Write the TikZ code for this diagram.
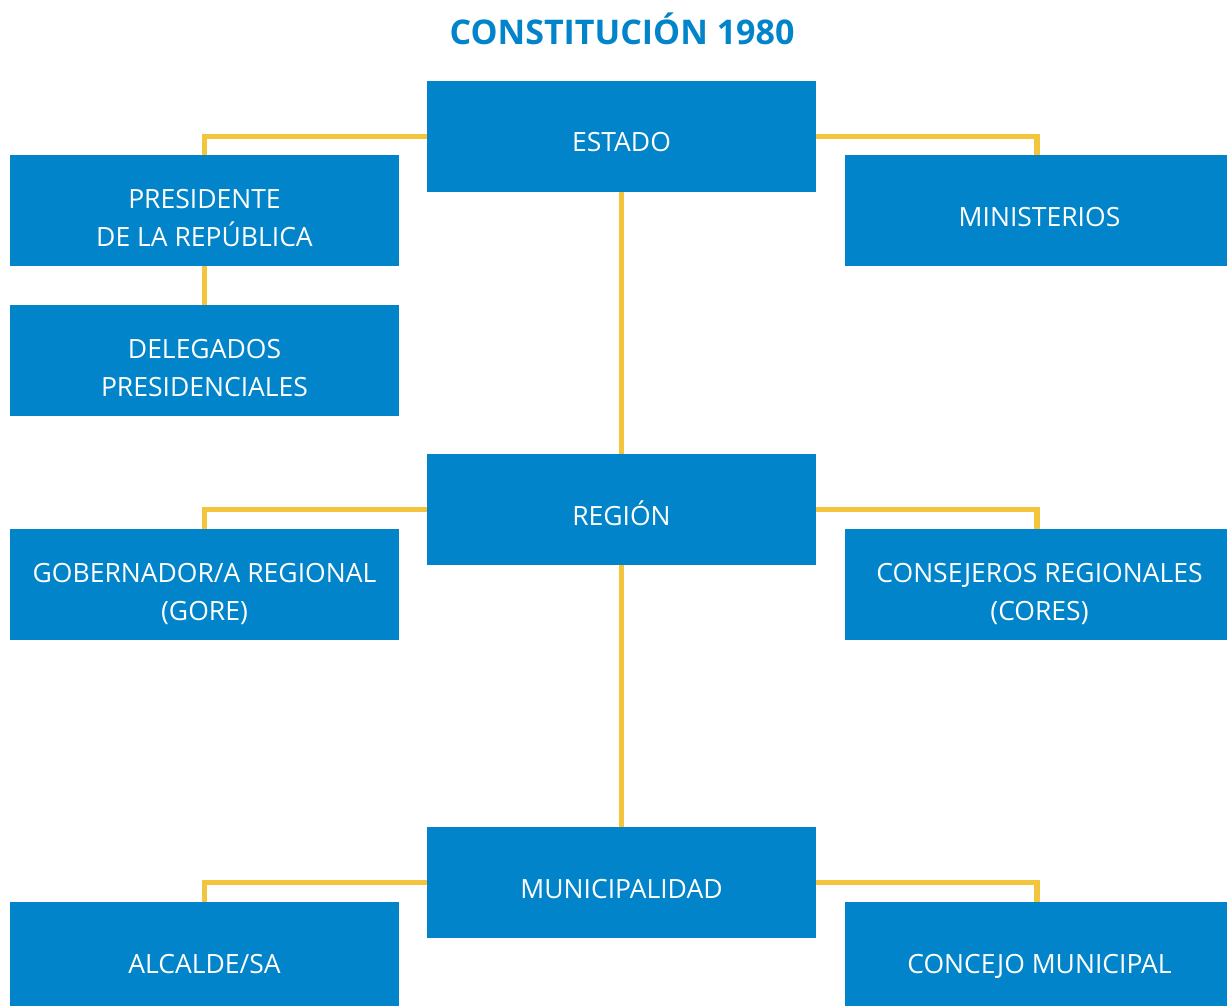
\documentclass[tikz,border=0pt]{standalone}
\usepackage{fontspec}
\setmainfont{Open Sans}
\usepackage{tikz}
\definecolor{boxblue}{HTML}{0184C9}
\definecolor{linkyellow}{HTML}{F2C53C}

\begin{document}
\begin{tikzpicture}[x=1pt, y=-1pt,
   style={font=\fontsize{26.5}{38}\selectfont},
   box/.style={
      fill = boxblue,
      text = white,
      minimum width = 389pt,
      minimum height = 111pt,
      inner sep = 0pt,
      align = center,
      text height = 33pt,
      text depth = 2pt
   },
   twoline/.style={text height = 73pt},
   link/.style={
      draw = linkyellow,
      line width = 5.5pt
   }]
   \useasboundingbox (0,0) rectangle (1227,1006);
   \clip (0,0) rectangle (1227,1006);

   \node[name=title, text=boxblue, font=\fontsize{34}{40}\selectfont\bfseries] at (622,29) {CONSTITUCIÓN 1980};

   % state level
   \node[box] (estado) at (621.5,136.5) {ESTADO};
   \node[box, twoline] (presidente) at (204.5,210.5) {PRESIDENTE\\DE LA REPÚBLICA};
   \node[box] (ministerios) at (1039.5,210.5) {MINISTERIOS};
   \node[box, twoline] (delegados) at (204.5,360.5) {DELEGADOS\\PRESIDENCIALES};

   % regional level
   \node[box] (region) at (621.5,509.5) {REGIÓN};
   \node[box, twoline] (gobernador) at (204.5,584.5) {GOBERNADOR/A REGIONAL\\(GORE)};
   \node[box, twoline] (consejeros) at (1039.5,584.5) {CONSEJEROS REGIONALES\\(CORES)};

   % local level
   \node[box] (municipalidad) at (621.5,882.5) {MUNICIPALIDAD};
   \node[box] (alcalde) at (204.5,957.5) {ALCALDE/SA};
   \node[box] (concejo) at (1039.5,957.5) {CONCEJO MUNICIPAL};

   \foreach \up/\lname/\rname in {estado/presidente/ministerios,
                                  region/gobernador/consejeros,
                                  municipalidad/alcalde/concejo} {
      \draw[link] (\up.west) -| (\lname.north);
      \draw[link] (\up.east) -| ([xshift=-2.5pt]\rname.north);
   }

   \draw[link] (estado.south) -- (region.north);
   \draw[link] (region.south) -- (municipalidad.north);
   \draw[link] (presidente.south) -- (delegados.north);

\end{tikzpicture}
\end{document}
